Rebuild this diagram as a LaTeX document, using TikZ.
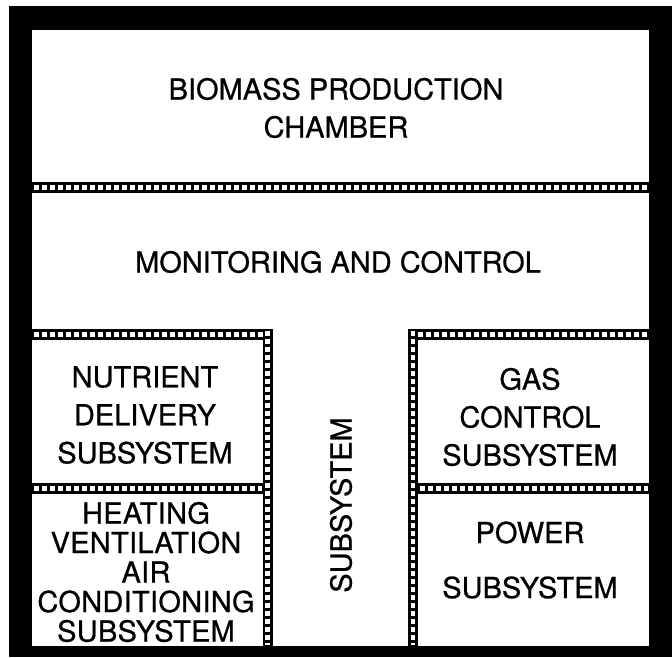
\documentclass[tikz,border=0pt]{standalone}
\usepackage{fontspec}
\setmainfont{TeX Gyre Heros}
\newfontfamily\lblfont{TeX Gyre Heros}[FakeBold=0.7]
\newcommand\hchain[3]{%
  \fill[black] (#1,{-(#3)-5.5}) rectangle (#2,{-(#3)+5.5});
  \draw[white,line width=4.5,dash pattern=on 4.5 off 3.5] ({#1+2},{-(#3)}) -- ({#2-1},{-(#3)});}
\newcommand\vchain[3]{%
  \fill[black] ({(#3)-5},-#1) rectangle ({(#3)+5},-#2);
  \draw[white,line width=4.5,dash pattern=on 4.5 off 3.5] ({#3},{-(#1)-2}) -- ({#3},{-(#2)+1});}
\begin{document}
\begin{tikzpicture}[x=1pt,y=1pt,
  lbl/.style={align=center,inner sep=0pt,font=\lblfont\fontsize{29}{38}\selectfont}]
\useasboundingbox (0,0) rectangle (672,-658);
% outer thick frame
\fill[black] (9,-6) rectangle (672,-657);
\fill[white] (32,-30) rectangle (649,-646);
% chain separators
\hchain{32}{649}{187.5}
\hchain{32}{272}{334.5}
\vchain{329}{646}{267.5}
\hchain{32}{263}{488.5}
\hchain{408}{649}{334.5}
\vchain{329}{646}{413}
\hchain{418}{649}{488.5}
% texts
\node[lbl] (bio) at (336,-108) {BIOMASS PRODUCTION\\CHAMBER};
\node[lbl] (mon) at (338,-262) {MONITORING AND CONTROL};
\node[lbl] (nut) at (145,-415) {NUTRIENT\\DELIVERY\\SUBSYSTEM};
\node[lbl,font=\lblfont\fontsize{29}{29.5}\selectfont\addfontfeature{LetterSpace=1}] (hvac) at (146,-572) {HEATING\\VENTILATION\\AIR\\CONDITIONING\\SUBSYSTEM};
\node[lbl] (gas) at (530,-417) {GAS\\CONTROL\\SUBSYSTEM};
\node[lbl,font=\lblfont\fontsize{29}{55}\selectfont] (pow) at (530,-560) {POWER\\SUBSYSTEM};
\node[lbl,rotate=90] (sub) at (341,-505) {SUBSYSTEM};
\end{tikzpicture}
\end{document}
